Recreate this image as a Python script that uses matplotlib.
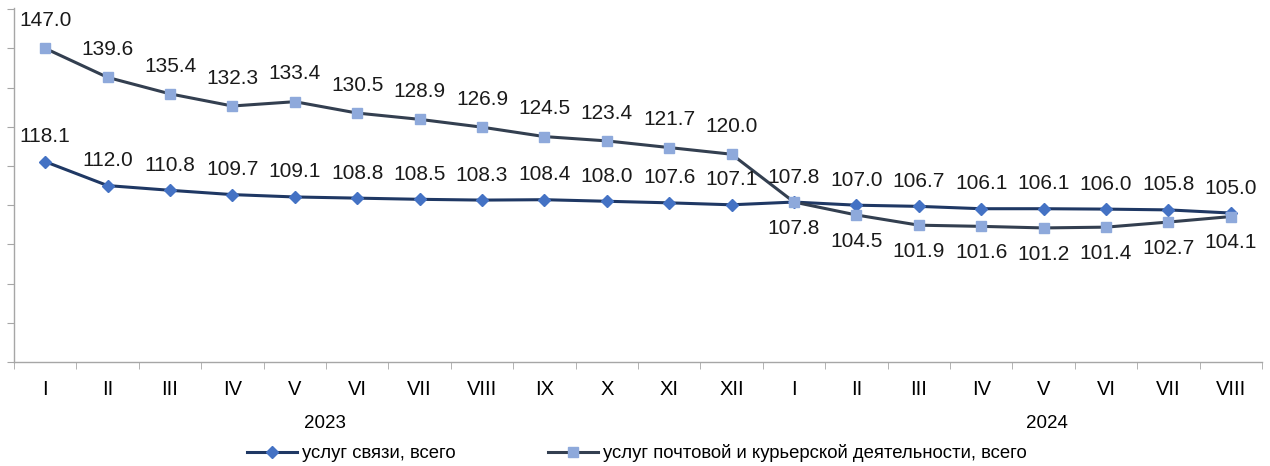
import matplotlib
matplotlib.use("Agg")
import matplotlib.pyplot as plt
import numpy as np

months = ["I", "II", "III", "IV", "V", "VI", "VII", "VIII", "IX", "X", "XI", "XII",
          "I", "II", "III", "IV", "V", "VI", "VII", "VIII"]
years = ["2023", "2024"]
svyaz = [118.1, 112.0, 110.8, 109.7, 109.1, 108.8, 108.5, 108.3, 108.4, 108.0, 107.6, 107.1,
         107.8, 107.0, 106.7, 106.1, 106.1, 106.0, 105.8, 105.0]
pochta = [147.0, 139.6, 135.4, 132.3, 133.4, 130.5, 128.9, 126.9, 124.5, 123.4, 121.7, 120.0,
          107.8, 104.5, 101.9, 101.6, 101.2, 101.4, 102.7, 104.1]
series_names = ["услуг связи, всего", "услуг почтовой и курьерской деятельности, всего"]

plt.rcParams['font.family'] = ['Liberation Sans', 'DejaVu Sans']

fig = plt.figure(figsize=(12.7, 4.66), dpi=100)
ax = fig.add_axes([14/1270, 1-362/466, (1262-14)/1270, (362-8)/466])

x = np.arange(len(months))
l1, = ax.plot(x, svyaz, color='#1F3864', lw=2.2, marker='D', markersize=6,
              markerfacecolor='#4472C4', markeredgecolor='#4472C4', zorder=3,
              label=series_names[0])
l2, = ax.plot(x, pochta, color='#333F50', lw=2.2, marker='s', markersize=7.5,
              markerfacecolor='#8EA9DB', markeredgecolor='#8EA9DB', zorder=3,
              label=series_names[1])

for i, v in enumerate(svyaz):
    ax.annotate(f"{v:.1f}", (x[i], v), xytext=(0, 18), textcoords='offset points',
                ha='center', va='center', fontsize=15, color='#1a1a1a')
for i, v in enumerate(pochta):
    dy = 20 if i < 12 else -19
    ax.annotate(f"{v:.1f}", (x[i], v), xytext=(0, dy), textcoords='offset points',
                ha='center', va='center', fontsize=15, color='#1a1a1a')

ax.set_xlim(-0.5, len(months) - 0.5)
ax.set_ylim(67, 157.3)
ax.set_yticks(np.arange(67, 158, 10))
ax.set_yticklabels([])
ax.set_xticks(x)
ax.set_xticklabels(months, fontsize=14.5)
ax.set_xticks(np.arange(-0.5, len(months), 1), minor=True)
ax.tick_params(axis='x', which='major', length=0, pad=13)
ax.tick_params(axis='x', which='minor', length=5, color='#A6A6A6', direction='out')
ax.tick_params(axis='y', length=5, color='#A6A6A6', direction='out')
for s in ['top', 'right']:
    ax.spines[s].set_visible(False)
for s in ['left', 'bottom']:
    ax.spines[s].set_color('#A6A6A6')
    ax.spines[s].set_linewidth(1.0)

fig.text(325/1270, 1-423/466, years[0], ha='center', va='center', fontsize=13.5)
fig.text(1047/1270, 1-423/466, years[1], ha='center', va='center', fontsize=13.5)

fig.legend(handles=[l1, l2], loc='center', bbox_to_anchor=(637/1270, 1-453/466),
           ncol=2, frameon=False, fontsize=13.3, handlelength=2.7, handletextpad=0.27,
           columnspacing=5.0, borderaxespad=0, borderpad=0)

fig.savefig("out.png", dpi=100)
